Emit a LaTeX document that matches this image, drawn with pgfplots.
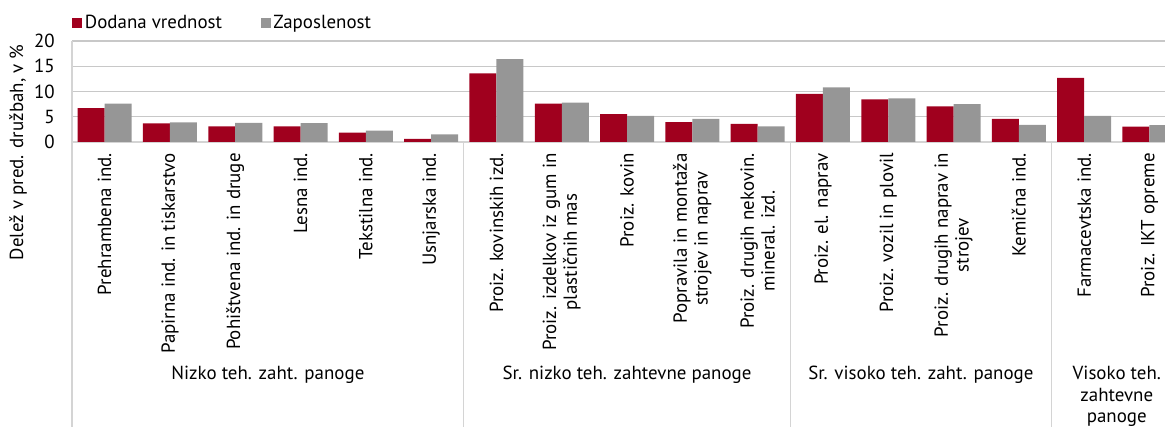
\documentclass[border=0pt]{standalone}
\usepackage{pgfplots}
\pgfplotsset{compat=1.18}
\usepackage{fontspec}
\setmainfont{PT Sans}
\definecolor{barred}{RGB}{160,0,30}
\definecolor{bargray}{RGB}{150,150,150}
\definecolor{gridc}{RGB}{200,200,200}
\definecolor{axc}{RGB}{212,212,212}
\newcommand{\cf}{\fontsize{14.2}{15.5}\selectfont}
\begin{document}
\begin{tikzpicture}
\path[use as bounding box] (0,0) rectangle (873.75pt,-320.25pt);
\begin{axis}[
  name=ax,
  at={(54pt,-106.5pt)}, anchor=south west,
  scale only axis, width=819.75pt, height=75.75pt,
  font=\cf,
  /pgf/number format/assume math mode=true,
  xmin=-0.5, xmax=16.238, ymin=0, ymax=20,
  ytick={0,5,10,15,20},
  xtick={0,...,16},
  xticklabels={Prehrambena ind.,Papirna ind. in tiskarstvo,Pohištvena ind. in druge,Lesna ind.,Tekstilna ind.,Usnjarska ind.,Proiz. kovinskih izd.,{Proiz. izdelkov iz gum in\\plastičnih mas},Proiz. kovin,{Popravila in montaža\\strojev in naprav},{Proiz. drugih nekovin.\\mineral. izd.},Proiz. el. naprav,Proiz. vozil in plovil,{Proiz. drugih naprav in\\strojev},Kemična ind.,Farmacevtska ind.,Proiz. IKT opreme},
  xticklabel style={yshift=-8.25pt, rotate=90, anchor=east, inner sep=0pt, align=center, font=\cf},
  yticklabel style={inner sep=0pt, xshift=-12.75pt, anchor=east, font=\cf},
  major tick length=0pt,
  axis x line*=bottom, axis y line*=left,
  axis line style={color=axc, line width=1pt},
  ymajorgrids, grid style={color=gridc, line width=1pt},
  ylabel={Delež v pred. družbah, v \%},
  ylabel style={at={(axis description cs:-0.0494,-0.104)}, anchor=center, font=\cf},
  ybar, bar width=0.4135,
  clip mode=individual,
  legend columns=2,
  legend style={at={(axis description cs:0,1)}, anchor=west, yshift=13.5pt, draw=none, fill=none, inner sep=0pt, font=\cf, /tikz/every even column/.append style={column sep=27pt}},
  legend image code/.code={\fill[#1] (0pt,-3.75pt) rectangle (7.5pt,3.75pt);},
]
\addplot[fill=barred, draw=none, bar shift=-0.2067] coordinates {
(0,6.7) (1,3.7) (2,3.1) (3,3.1) (4,1.85) (5,0.6) (6,13.6) (7,7.6) (8,5.5) (9,3.95) (10,3.6) (11,9.55) (12,8.45) (13,7.05) (14,4.6) (15,12.7) (16,3.05)};
\addlegendentry{Dodana vrednost}
\addplot[fill=bargray, draw=none, bar shift=0.2067] coordinates {
(0,7.6) (1,3.9) (2,3.8) (3,3.75) (4,2.25) (5,1.5) (6,16.4) (7,7.8) (8,5.15) (9,4.6) (10,3.1) (11,10.8) (12,8.65) (13,7.5) (14,3.4) (15,5.15) (16,3.35)};
\addlegendentry{Zaposlenost}
\draw[axc, line width=1pt] (axis cs:-0.5,0) -- ++(0pt,-213.75pt);
\draw[axc, line width=1pt] (axis cs:5.5,0) -- ++(0pt,-213.75pt);
\draw[axc, line width=1pt] (axis cs:10.5,0) -- ++(0pt,-213.75pt);
\draw[axc, line width=1pt] (axis cs:14.5,0) -- ++(0pt,-213.75pt);
\node[anchor=north, align=center, inner sep=0pt, font=\cf] at ([yshift=-168pt]axis cs:2.5,0) {Nizko teh. zaht. panoge};
\node[anchor=north, align=center, inner sep=0pt, font=\cf] at ([yshift=-168pt]axis cs:8,0) {Sr. nizko teh. zahtevne panoge};
\node[anchor=north, align=center, inner sep=0pt, font=\cf] at ([yshift=-168pt]axis cs:12.5,0) {Sr. visoko teh. zaht. panoge};
\node[anchor=north, align=center, inner sep=0pt, font=\fontsize{14.2}{16}\selectfont] at ([yshift=-168pt]axis cs:15.5,0) {Visoko teh.\\zahtevne\\panoge};
\end{axis}
\end{tikzpicture}
\end{document}
